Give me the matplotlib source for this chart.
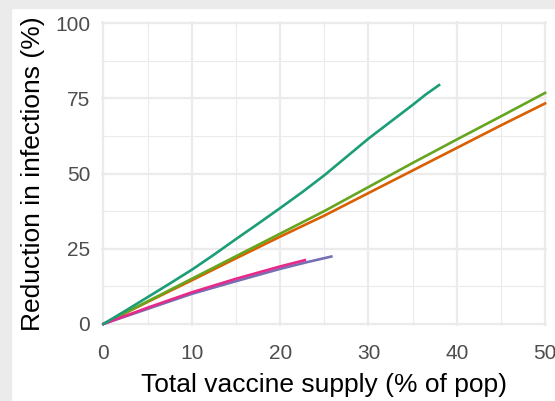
import numpy as np
import matplotlib
matplotlib.use('Agg')
import matplotlib.pyplot as plt
from matplotlib.patches import Rectangle

# Reduction in infections vs total vaccine supply, one line per strategy
teal_x = [0, 2.5, 5, 7.5, 10, 12.5, 15, 17.5, 20, 22.5, 25, 27.5, 30, 32.5, 35, 36.5, 38]
teal_y = [0, 4.4, 8.9, 13.4, 18, 23, 28.2, 33.3, 38.5, 43.8, 49.4, 55.5, 61.6, 67.2, 72.8, 76.3, 79.4]

green_x = [0, 5, 10, 15, 20, 25, 30, 35, 40, 45, 50]
green_y = [0, 7.5, 15, 22.5, 30, 37.5, 45.5, 53.5, 61.3, 69, 76.8]

orange_x = [0, 5, 10, 15, 20, 25, 30, 35, 40, 45, 50]
orange_y = [0, 7.3, 14.5, 21.8, 29, 36, 43.5, 51, 58.5, 66, 73.3]

purple_x = [0, 5, 10, 15, 20, 23, 25.8]
purple_y = [0, 5, 10, 14.2, 18.3, 20.5, 22.4]

pink_x = [0, 5, 10, 15, 20, 22.8]
pink_y = [0, 5.4, 10.5, 15, 19.1, 21.2]

xticks = [0, 10, 20, 30, 40, 50]
yticks = [0, 25, 50, 75, 100]

plt.rcParams['font.family'] = ['Liberation Sans', 'DejaVu Sans']

fig = plt.figure(figsize=(5.55, 4.01), dpi=100)
fig.patch.set_facecolor('white')
# grey frame on the left and top of the screenshot
fig.patches.append(Rectangle((0, 0), 11 / 555, 1, transform=fig.transFigure,
                             color='#ebebeb', zorder=0))
fig.patches.append(Rectangle((0, 1 - 8 / 401), 1, 8 / 401, transform=fig.transFigure,
                             color='#ebebeb', zorder=0))

ax = fig.add_axes([0.1825, 0.187, 0.8036, 0.7606])
ax.set_facecolor('white')

lw = 1.9
ax.plot(orange_x, orange_y, color='#d95f02', linewidth=lw)
ax.plot(green_x, green_y, color='#66a61e', linewidth=lw)
ax.plot(purple_x, purple_y, color='#7570b3', linewidth=lw)
ax.plot(pink_x, pink_y, color='#e7298a', linewidth=lw)
ax.plot(teal_x, teal_y, color='#1b9e77', linewidth=lw)

ax.set_xlim(-0.25, 50.25)
ax.set_ylim(-0.7, 100.7)
ax.set_xticks(xticks)
ax.set_yticks(yticks)
ax.set_xticks([5, 15, 25, 35, 45], minor=True)
ax.set_yticks([12.5, 37.5, 62.5, 87.5], minor=True)
ax.grid(which='major', color='#ebebeb', linewidth=1.6)
ax.grid(which='minor', color='#ebebeb', linewidth=0.8)
ax.set_axisbelow(True)

for s in ax.spines.values():
    s.set_visible(False)
ax.tick_params(which='both', length=0, labelsize=15, labelcolor='#4d4d4d')
ax.tick_params(axis='y', pad=8)
ax.tick_params(axis='x', pad=13)

ax.set_xlabel('Total vaccine supply (% of pop)', fontsize=19, color='black', labelpad=7)
ax.set_ylabel('Reduction in infections (%)', fontsize=19, color='black', labelpad=7)

fig.savefig('out.png', dpi=100)
